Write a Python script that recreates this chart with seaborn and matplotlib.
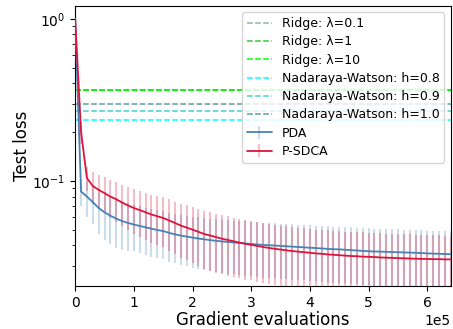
import matplotlib
matplotlib.use("Agg")
import matplotlib.pyplot as plt
import seaborn as sns

# gradient evaluations, one point every 1e4
grad_evals = list(range(0, 650000, 10000))

pda_loss = [1.0, 0.086, 0.080, 0.074, 0.068, 0.064, 0.061, 0.0585, 0.0565, 0.055,
            0.0538, 0.0527, 0.0517, 0.0507, 0.0498, 0.049, 0.0478, 0.0468, 0.046, 0.0453,
            0.0447, 0.0441, 0.0436, 0.0431, 0.0427, 0.0423, 0.042, 0.0417, 0.0414, 0.0411,
            0.0408, 0.0405, 0.0403, 0.0401, 0.0399, 0.0397, 0.0395, 0.0393, 0.0391, 0.0389,
            0.0387, 0.0385, 0.0383, 0.0381, 0.0379, 0.0378, 0.0376, 0.0374, 0.0372, 0.0370,
            0.0368, 0.0367, 0.0366, 0.0365, 0.0364, 0.0363, 0.0362, 0.0361, 0.0360, 0.0359,
            0.0357, 0.0356, 0.0355, 0.0354, 0.0353]
pda_err = [0.0, 0.016, 0.020, 0.020, 0.021, 0.021, 0.020, 0.020, 0.019, 0.018,
           0.017, 0.017, 0.0168, 0.0166, 0.0164, 0.0162, 0.016, 0.0158, 0.0157, 0.0156,
           0.0155, 0.0155, 0.0154, 0.0154, 0.0153, 0.0153, 0.0152, 0.0152, 0.0151, 0.0151,
           0.015, 0.015, 0.015, 0.0149, 0.0149, 0.0148, 0.0148, 0.0147, 0.0147, 0.0146,
           0.0146, 0.0145, 0.0145, 0.0145, 0.0144, 0.0144, 0.0143, 0.0143, 0.0142, 0.0142,
           0.0141, 0.0141, 0.014, 0.014, 0.014, 0.0139, 0.0139, 0.0138, 0.0138, 0.0137,
           0.0137, 0.0136, 0.0136, 0.0135, 0.0135]

psdca_loss = [1.0, 0.20, 0.104, 0.093, 0.088, 0.084, 0.080, 0.077, 0.0735, 0.0705,
              0.068, 0.066, 0.064, 0.062, 0.0605, 0.059, 0.057, 0.055, 0.053, 0.0515,
              0.050, 0.0485, 0.047, 0.046, 0.045, 0.044, 0.0432, 0.0424, 0.0416, 0.0409,
              0.0403, 0.0397, 0.0391, 0.0386, 0.0381, 0.0377, 0.0373, 0.0369, 0.0366, 0.0363,
              0.0360, 0.0357, 0.0355, 0.0352, 0.0350, 0.0348, 0.0346, 0.0344, 0.0343, 0.0341,
              0.0340, 0.0339, 0.0337, 0.0336, 0.0335, 0.0334, 0.0333, 0.0332, 0.0331, 0.0330,
              0.0330, 0.0329, 0.0329, 0.0328, 0.0328]
psdca_err = [0.0, 0.03, 0.017, 0.021, 0.021, 0.021, 0.021, 0.021, 0.021, 0.021,
             0.021, 0.0208, 0.0206, 0.0204, 0.0202, 0.02, 0.0198, 0.0196, 0.0194, 0.0192,
             0.019, 0.0187, 0.0184, 0.0181, 0.0178, 0.0175, 0.0172, 0.0169, 0.0166, 0.0163,
             0.016, 0.0158, 0.0156, 0.0155, 0.0154, 0.0152, 0.0151, 0.0149, 0.0148, 0.0146,
             0.0145, 0.0144, 0.0144, 0.0143, 0.0143, 0.0142, 0.0141, 0.0141, 0.014, 0.014,
             0.0139, 0.0138, 0.0138, 0.0137, 0.0137, 0.0136, 0.0135, 0.0135, 0.0134, 0.0134,
             0.0133, 0.0132, 0.0132, 0.0131, 0.013]

ridge_lambdas = ["0.1", "1", "10"]
ridge_loss = [0.366, 0.366, 0.365]
ridge_colors = ["darkseagreen", "limegreen", "lime"]

nw_bandwidths = ["0.8", "0.9", "1.0"]
nw_loss = [0.238, 0.268, 0.300]
nw_colors = ["cyan", "mediumturquoise", "cadetblue"]

sns.set_style("ticks", {"axes.edgecolor": "black", "xtick.color": "black",
                        "ytick.color": "black", "text.color": "black",
                        "axes.labelcolor": "black"})
plt.rcParams.update({
    "font.family": ["DejaVu Sans"],
    "xtick.labelsize": 10,
    "ytick.labelsize": 10,
    "axes.labelsize": 12,
    "legend.fontsize": 9,
    "xtick.direction": "out",
    "ytick.direction": "out",
})

fig, ax = plt.subplots(figsize=(4.53, 3.29), dpi=100)
fig.subplots_adjust(left=0.166, right=0.995, bottom=0.131, top=0.982)

for lam, val, col in zip(ridge_lambdas, ridge_loss, ridge_colors):
    ax.axhline(val, color=col, ls="--", lw=1.1, label=f"Ridge: λ={lam}")
for h, val, col in zip(nw_bandwidths, nw_loss, nw_colors):
    ax.axhline(val, color=col, ls="--", lw=1.1, label=f"Nadaraya-Watson: h={h}")

for name, loss, err, col in [("PDA", pda_loss, pda_err, "#4682b4"),
                             ("P-SDCA", psdca_loss, psdca_err, "#dc143c")]:
    ebar = ax.errorbar(grad_evals, loss, yerr=err, color=col, lw=1.3,
                       ecolor=matplotlib.colors.to_rgba(col, 0.28), elinewidth=1.5,
                       label=name, zorder=3)
    ebar[2][0].set_zorder(2)

ax.set_yscale("log")
ax.set_xlim(0, 640000)
ax.set_ylim(0.0225, 1.2)
ax.ticklabel_format(axis="x", style="sci", scilimits=(0, 0))
ax.set_xlabel("Gradient evaluations", labelpad=1)
ax.set_ylabel("Test loss", labelpad=1)
ax.legend(loc="upper right", frameon=True, framealpha=0.8, edgecolor="0.8",
          fancybox=True, labelspacing=0.42)

fig.savefig("out.png", dpi=100)
